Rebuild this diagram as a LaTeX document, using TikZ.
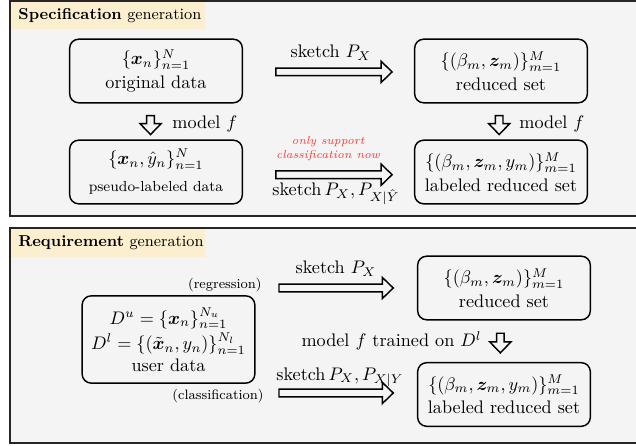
\documentclass[tikz,border=0pt]{standalone}
\usepackage{amsmath,bm}
\usetikzlibrary{calc}
\definecolor{panelgray}{HTML}{F4F4F4}
\definecolor{tabyellow}{HTML}{FCEFCF}
\definecolor{notered}{HTML}{FF3535}
\tikzset{
  fatarrow/.style={draw,line width=0.8pt,line join=miter,
    to path={let \p1=($(\tikztotarget)-(\tikztostart)$), \n1={atan2(\y1,\x1)}, \n2={veclen(\x1,\y1)} in
      (\tikztostart) -- ++(\n1+90:2.1pt) -- ++(\n1:\n2-6pt) -- ++(\n1+90:3.7pt) -- (\tikztotarget)
      -- ($(\tikztotarget)+(\n1+180:6pt)+(\n1-90:5.8pt)$) -- ++(\n1+90:3.7pt) -- ++(\n1+180:\n2-6pt) -- cycle}}
}
\begin{document}
\begin{tikzpicture}[x=0.55pt,y=-0.55pt,
    panel/.style={draw=black!85,line width=0.8pt,fill=panelgray},
    tabtext/.style={anchor=west,inner sep=0pt,font=\fontsize{8.7}{10}\selectfont},
    databox/.style={draw,rounded corners=5pt,line width=0.8pt,minimum width=95pt,minimum height=35pt,align=center,inner sep=1pt},
    smalltext/.style={font=\fontsize{7.5}{9}\selectfont}]
	\useasboundingbox (0,0) rectangle (636,446);
	
	% specification panel
	\draw[panel] (10,1) rectangle (650,216);
	\fill[tabyellow] (11,2) rectangle (205,29);
	\node[tabtext] (spectitle) at (18,16) {\textbf{Specification} generation};
	
	\node[databox] (orig) at (156,71) {$\{\bm{x}_n\}_{n=1}^N$\\[1pt] original data};
	\node[databox] (pseudo) at (156,172) {$\{\bm{x}_n,\hat{y}_n\}_{n=1}^N$\\[3pt] {\footnotesize pseudo-labeled data}};
	\node[databox] (red) at (501,71) {$\{(\beta_m,\bm{z}_m)\}_{m=1}^M$\\[1pt] reduced set};
	\node[databox] (lab) at (501,172) {$\{(\beta_m,\bm{z}_m,y_m)\}_{m=1}^M$\\[1pt] labeled reduced set};
	
	% arrow ends
	\coordinate (origS) at ($(orig.south)+(-3pt,-6.6pt)$);
	\coordinate (pseudoN) at ($(pseudo.north)+(-3pt,2.7pt)$);
	\coordinate (redS) at ($(red.south)+(-1pt,-6.6pt)$);
	\coordinate (labN) at ($(lab.north)+(-1pt,2.7pt)$);
	\coordinate (origE) at ($(orig.east)+(18pt,-0.5pt)$);
	\coordinate (redW) at ($(red.west)+(-12pt,-0.5pt)$);
	\coordinate (pseudoE) at ($(pseudo.east)+(18pt,-1.5pt)$);
	\coordinate (labW) at ($(lab.west)+(-12pt,-1.5pt)$);
	
	\draw[fatarrow] (origS) to (pseudoN);
	\node[anchor=west] (modelA) at (166,124) {model $f$};
	\draw[fatarrow] (redS) to (labN);
	\node[anchor=west] (modelB) at (513,124) {model $f$};
	
	\draw[fatarrow] (origE) to (redW);
	\node (sketchA) at (331,53) {sketch $P_X$};
	\draw[fatarrow] (pseudoE) to (labW);
	\node (sketchB) at (336,194) {sketch\,$P_X,P_{X|\hat{Y}}$};
	\node[text=notered,align=center,font=\fontsize{6.3}{7.8}\selectfont\itshape,inner sep=0pt] (note) at (328,149) {only support\\ classification now};
	
	% requirement panel
	\draw[panel] (10,228) rectangle (650,443);
	\fill[tabyellow] (11,229) rectangle (205,257);
	\node[tabtext] (reqtitle) at (18,243) {\textbf{Requirement} generation};
	
	\node[databox,minimum height=48pt] (user) at (168.5,339.5) {$D^u=\{\bm{x}_n\}_{n=1}^{N_u}$\\[2pt] $D^l=\{(\tilde{\bm{x}}_n,y_n)\}_{n=1}^{N_l}$\\ user data};
	\node[databox] (red2) at (504,288) {$\{(\beta_m,\bm{z}_m)\}_{m=1}^M$\\[1pt] reduced set};
	\node[databox] (lab2) at (504,394.5) {$\{(\beta_m,\bm{z}_m,y_m)\}_{m=1}^M$\\[1pt] labeled reduced set};
	
	\coordinate (regstart) at (279,288);
	\coordinate (clsstart) at (279,393);
	\coordinate (regend) at ($(regstart -| red2.west)+(-13pt,0pt)$);
	\coordinate (clsend) at ($(clsstart -| lab2.west)+(-13pt,0pt)$);
	\coordinate (red2S) at ($(red2.south)+(-2pt,-7pt)$);
	\coordinate (lab2N) at ($(lab2.north)+(-2pt,5pt)$);
	
	\draw[fatarrow] (regstart) to (regend);
	\draw[fatarrow] (clsstart) to (clsend);
	\node[smalltext,anchor=east] (reg) at (268,285) {(regression)};
	\node[smalltext,anchor=east] (cls) at (270,396) {(classification)};
	\node (sketchC) at (336,269) {sketch $P_X$};
	\node (sketchD) at (340,377) {sketch\,$P_X,P_{X|Y}$};
	
	\draw[fatarrow] (red2S) to (lab2N);
	\node[anchor=east] (modelC) at (488,341) {model $f$ trained on $D^l$};
\end{tikzpicture}
\end{document}
